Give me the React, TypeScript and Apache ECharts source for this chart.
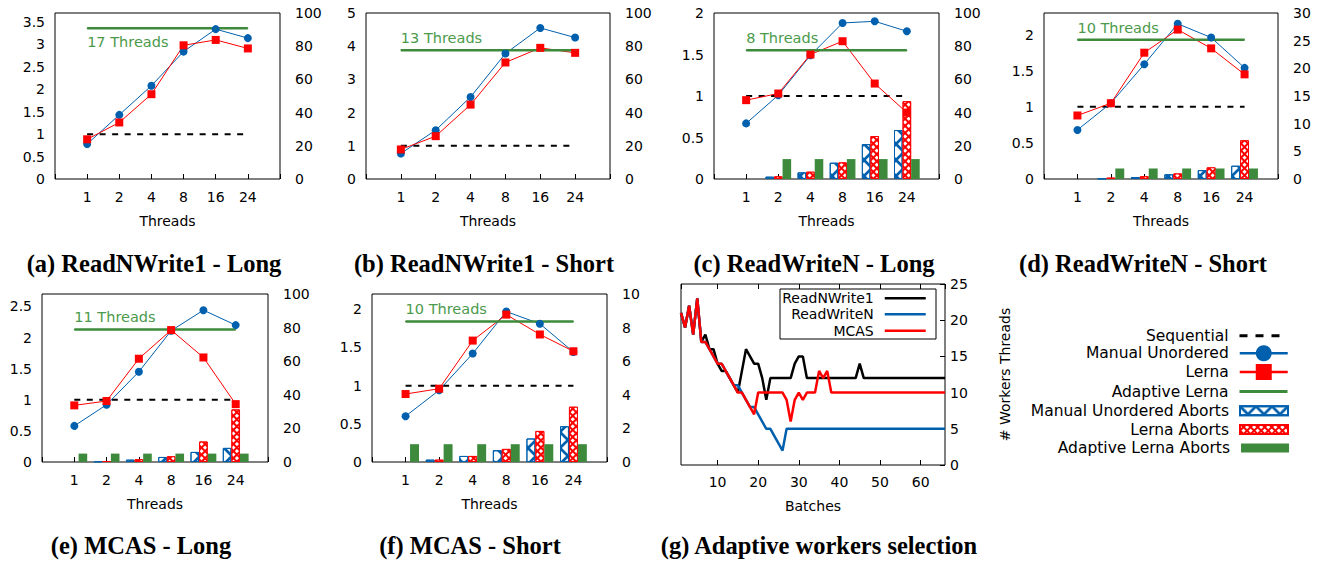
import React, { useEffect, useRef } from 'react';
import * as echarts from 'echarts';

// ---------- Data ----------
const threadCategories = ['', '1', '2', '4', '8', '16', '24', ''];
const sequentialSpeedup = [1, 1, 1, 1, 1, 1];
const adaptiveThreads = [17, 13, 8, 10, 11, 10];

// (a) ReadNWrite1 - Long
const manualA = [0.78, 1.43, 2.08, 2.84, 3.34, 3.14];
const lernaA = [0.885, 1.26, 1.89, 2.98, 3.1, 2.91];
const adaptiveA = [3.36, 3.36, 3.36, 3.36, 3.36, 3.36];
// (b) ReadNWrite1 - Short
const manualB = [0.77, 1.47, 2.47, 3.78, 4.55, 4.26];
const lernaB = [0.89, 1.29, 2.24, 3.51, 3.95, 3.8];
const adaptiveB = [3.88, 3.88, 3.88, 3.88, 3.88, 3.88];
// (c) ReadWriteN - Long
const manualC = [0.67, 1.01, 1.49, 1.88, 1.9, 1.78];
const lernaC = [0.95, 1.03, 1.5, 1.66, 1.15, 0.8];
const adaptiveC = [1.55, 1.55, 1.55, 1.55, 1.55, 1.55];
const manualAbortsC = [null, 1.4, 4, 9.8, 21, 29.5];
const lernaAbortsC = [null, 1.6, 4.4, 10, 25.9, 46.9];
const adaptiveAbortsC = [null, 12, 12, 12, 12, 12];
// (d) ReadWriteN - Short
const manualD = [0.68, 1.05, 1.59, 2.15, 1.96, 1.54];
const lernaD = [0.88, 1.05, 1.75, 2.07, 1.81, 1.45];
const adaptiveD = [1.93, 1.93, 1.93, 1.93, 1.93, 1.93];
const manualAbortsD = [null, 0.1, 0.35, 0.85, 1.6, 2.4];
const lernaAbortsD = [null, 0.25, 0.5, 1.0, 2.1, 7.0];
const adaptiveAbortsD = [null, 1.9, 1.9, 1.9, 1.9, 1.9];
// (e) MCAS - Long
const manualE = [0.58, 0.92, 1.45, 2.11, 2.44, 2.2];
const lernaE = [0.91, 0.98, 1.66, 2.12, 1.68, 0.93];
const adaptiveE = [2.13, 2.13, 2.13, 2.13, 2.13, 2.13];
const manualAbortsE = [null, 0.4, 1.4, 3, 6, 8.4];
const lernaAbortsE = [null, 0.6, 1.6, 3.4, 12.2, 31.3];
const adaptiveAbortsE = [5, 5, 5, 5, 5, 5];
// (f) MCAS - Short
const manualF = [0.6, 0.94, 1.42, 1.97, 1.81, 1.44];
const lernaF = [0.89, 0.96, 1.59, 1.93, 1.67, 1.45];
const adaptiveF = [1.84, 1.84, 1.84, 1.84, 1.84, 1.84];
const manualAbortsF = [null, 0.14, 0.36, 0.7, 1.4, 2.13];
const lernaAbortsF = [null, 0.14, 0.36, 0.78, 1.85, 3.29];
const adaptiveAbortsF = [1.06, 1.06, 1.06, 1.06, 1.06, 1.06];

// (g) Adaptive workers selection, batches 1..66
const readNWrite1Workers = [
  21, 19, 22, 18, 23, 17, 18, 16, 16, 14,
  13, 13, 12, 11, 10, 13, 16, 15, 14, 14,
  12, 9, 12, 12, 12, 12, 12, 12, 14, 15,
  15, 12, 12, 12, 12, 12, 12, 12, 12, 12,
  12, 12, 12, 12, 14, 12, 12, 12, 12, 12,
  12, 12, 12, 12, 12, 12, 12, 12, 12, 12,
  12, 12, 12, 12, 12, 12,
];
const readWriteNWorkers = [
  21, 19, 22, 18, 23, 17, 17, 16, 15, 14,
  14, 13, 12, 11, 11, 10, 9, 8, 8, 7,
  6, 5, 5, 4, 3, 2, 5, 5, 5, 5,
  5, 5, 5, 5, 5, 5, 5, 5, 5, 5,
  5, 5, 5, 5, 5, 5, 5, 5, 5, 5,
  5, 5, 5, 5, 5, 5, 5, 5, 5, 5,
  5, 5, 5, 5, 5, 5,
];
const mcasWorkers = [
  21, 19, 22, 18, 23, 17, 17, 16, 15, 14,
  14, 13, 12, 11, 10, 10, 9, 8, 7, 10,
  10, 10, 10, 10, 10, 10, 9, 6, 9, 10,
  9, 10, 10, 10, 13, 12, 13, 10, 10, 10,
  10, 10, 10, 10, 10, 10, 10, 10, 10, 10,
  10, 10, 10, 10, 10, 10, 10, 10, 10, 10,
  10, 10, 10, 10, 10, 10,
];

// ---------- Styles / layout ----------
const FONT = 'DejaVu Sans';
const BLUE = '#0060ad';
const RED = '#ff0000';
const GREEN = '#3d8a3d';
const GREEN_TEXT = '#4b9a4b';
const X_HATCH = 'path://M0,0L1.2,0L10,8.8L10,10L8.8,10L0,1.2Z M8.8,0L10,0L10,1.2L1.2,10L0,10L0,8.8Z';

const panels = [
  { caption: '(a) ReadNWrite1 - Long', manual: manualA, lerna: lernaA, adaptive: adaptiveA, aborts: null,
    leftMax: 3.7, leftStep: 0.5, rightMax: 100, rightStep: 20, labelPos: 'bottom',
    grid: { left: 55, top: 13, width: 225, height: 166 }, cx: 154, cy: 263 },
  { caption: '(b) ReadNWrite1 - Short', manual: manualB, lerna: lernaB, adaptive: adaptiveB, aborts: null,
    leftMax: 5, leftStep: 1, rightMax: 100, rightStep: 20, labelPos: 'top',
    grid: { left: 366, top: 13, width: 244, height: 166 }, cx: 484, cy: 263 },
  { caption: '(c) ReadWriteN - Long', manual: manualC, lerna: lernaC, adaptive: adaptiveC,
    aborts: [manualAbortsC, lernaAbortsC, adaptiveAbortsC],
    leftMax: 2, leftStep: 0.5, rightMax: 100, rightStep: 20, labelPos: 'top',
    grid: { left: 714, top: 13, width: 225, height: 166 }, cx: 814, cy: 263 },
  { caption: '(d) ReadWriteN - Short', manual: manualD, lerna: lernaD, adaptive: adaptiveD,
    aborts: [manualAbortsD, lernaAbortsD, adaptiveAbortsD],
    leftMax: 2.3, leftStep: 0.5, rightMax: 30, rightStep: 5, labelPos: 'top',
    grid: { left: 1044, top: 13, width: 234, height: 166 }, cx: 1143, cy: 263 },
  { caption: '(e) MCAS - Long', manual: manualE, lerna: lernaE, adaptive: adaptiveE,
    aborts: [manualAbortsE, lernaAbortsE, adaptiveAbortsE],
    leftMax: 2.7, leftStep: 0.5, rightMax: 100, rightStep: 20, labelPos: 'top',
    grid: { left: 42, top: 294, width: 226, height: 168 }, cx: 141, cy: 545 },
  { caption: '(f) MCAS - Short', manual: manualF, lerna: lernaF, adaptive: adaptiveF,
    aborts: [manualAbortsF, lernaAbortsF, adaptiveAbortsF],
    leftMax: 2.2, leftStep: 0.5, rightMax: 10, rightStep: 2, labelPos: 'top',
    grid: { left: 372, top: 294, width: 235, height: 168 }, cx: 470, cy: 545 },
];

const pad = (v: any[]) => [null, ...v, null];
const isMultiple = (a: number, b: number) => Math.abs(a / b - Math.round(a / b)) < 1e-9;

const labelFont = { fontFamily: FONT, fontSize: 14, color: '#000' };

function buildOption() {
  const grid: any[] = [];
  const xAxis: any[] = [];
  const yAxis: any[] = [];
  const series: any[] = [];
  const lineSeries: any[] = [];
  const barSeries: any[] = [];

  panels.forEach((p, i) => {
    grid.push({ ...p.grid, show: true, borderColor: '#000', borderWidth: 1 });
    xAxis.push({
      type: 'category', gridIndex: i, data: threadCategories, boundaryGap: false,
      axisLine: { show: false },
      axisTick: { show: true, inside: true, length: 5, interval: 0, lineStyle: { color: '#000' } },
      axisLabel: { ...labelFont, margin: 11, interval: 0 },
      splitLine: { show: false },
      name: 'Threads', nameLocation: 'middle', nameGap: 35, nameTextStyle: labelFont,
    });
    yAxis.push({
      type: 'value', gridIndex: i, position: 'left', min: 0, max: p.leftMax, interval: p.leftStep,
      axisLine: { show: false }, axisTick: { show: false }, splitLine: { show: false },
      axisLabel: { ...labelFont, margin: 10, showMaxLabel: isMultiple(p.leftMax, p.leftStep) },
    });
    yAxis.push({
      type: 'value', gridIndex: i, position: 'right', min: 0, max: p.rightMax, interval: p.rightStep,
      axisLine: { show: false }, axisTick: { show: false }, splitLine: { show: false },
      axisLabel: { ...labelFont, margin: 15 },
    });

    const yl = 2 * i;
    const yr = 2 * i + 1;
    lineSeries.push({
      name: 'Sequential', type: 'line', xAxisIndex: i, yAxisIndex: yl, data: pad(sequentialSpeedup),
      symbol: 'none', lineStyle: { color: '#000', width: 2, type: [6, 6.5] }, itemStyle: { color: '#000' },
    });
    lineSeries.push({
      name: 'Manual Unordered', type: 'line', xAxisIndex: i, yAxisIndex: yl, data: pad(p.manual),
      symbol: 'circle', symbolSize: 8, lineStyle: { color: BLUE, width: 1 }, itemStyle: { color: BLUE },
    });
    lineSeries.push({
      name: 'Lerna', type: 'line', xAxisIndex: i, yAxisIndex: yl, data: pad(p.lerna),
      symbol: 'rect', symbolSize: 8, lineStyle: { color: RED, width: 1 }, itemStyle: { color: RED },
    });
    const adaptiveData: any[] = pad(p.adaptive);
    adaptiveData[1] = {
      value: p.adaptive[0],
      label: {
        show: true, formatter: `${adaptiveThreads[i]} Threads`, position: p.labelPos, align: 'left',
        distance: p.labelPos === 'bottom' ? 6 : 4, color: GREEN_TEXT, fontFamily: FONT, fontSize: 14.5,
      },
    };
    lineSeries.push({
      name: 'Adaptive Lerna', type: 'line', xAxisIndex: i, yAxisIndex: yl, data: adaptiveData,
      symbol: 'circle', symbolSize: 1, lineStyle: { color: GREEN, width: 2.5 }, itemStyle: { color: GREEN },
    });

    if (p.aborts) {
      const common = { type: 'bar', xAxisIndex: i, yAxisIndex: yr, barGap: '0%', barCategoryGap: '20%' };
      barSeries.push({
        ...common, name: 'Manual Unordered Aborts', data: pad(p.aborts[0]),
        itemStyle: {
          color: '#ffffff', borderColor: BLUE, borderWidth: 1,
          decal: { symbol: X_HATCH, symbolSize: 1, color: BLUE, dashArrayX: [16, 0], dashArrayY: [16, 0] },
        },
      });
      barSeries.push({
        ...common, name: 'Lerna Aborts', data: pad(p.aborts[1]),
        itemStyle: {
          color: RED, borderColor: RED, borderWidth: 1,
          decal: { symbol: 'rect', symbolSize: 1, color: '#ffffff', dashArrayX: [3, 2], dashArrayY: [3, 2], rotation: Math.PI / 4 },
        },
      });
      barSeries.push({
        ...common, name: 'Adaptive Lerna Aborts', data: pad(p.aborts[2]),
        itemStyle: { color: GREEN },
      });
    }
  });

  // (g)
  const gi = panels.length;
  grid.push({ left: 681, top: 284, width: 264, height: 181, show: true, borderColor: '#000', borderWidth: 1 });
  xAxis.push({
    type: 'value', gridIndex: gi, min: 1, max: 66,
    axisLine: { show: false },
    axisTick: { show: true, inside: true, length: 5, lineStyle: { color: '#000' } },
    axisLabel: { ...labelFont, margin: 10, showMinLabel: false, showMaxLabel: false },
    splitLine: { show: false },
    name: 'Batches', nameLocation: 'middle', nameGap: 34, nameTextStyle: labelFont,
  });
  xAxis.push({
    type: 'value', gridIndex: gi, position: 'top', min: 1, max: 66,
    axisLine: { show: false },
    axisTick: { show: true, inside: true, length: 5, lineStyle: { color: '#000' } },
    axisLabel: { show: false }, splitLine: { show: false },
  });
  yAxis.push({
    type: 'value', gridIndex: gi, position: 'right', min: 0, max: 25, interval: 5,
    axisLine: { show: false },
    axisTick: { show: true, inside: true, length: 5, lineStyle: { color: '#000' } },
    axisLabel: { ...labelFont, margin: 5 }, splitLine: { show: false },
    name: '# Workers Threads', nameLocation: 'middle', nameGap: 53, nameTextStyle: labelFont,
  });
  const gy = yAxis.length - 1;
  const gSeries = [
    { name: 'ReadNWrite1', values: readNWrite1Workers, color: '#000000' },
    { name: 'ReadWriteN', values: readWriteNWorkers, color: BLUE },
    { name: 'MCAS', values: mcasWorkers, color: RED },
  ];
  gSeries.forEach((s) => {
    lineSeries.push({
      name: s.name, type: 'line', xAxisIndex: gi, yAxisIndex: gy,
      data: s.values.map((v, k) => [k + 1, v]),
      symbol: 'none', lineStyle: { color: s.color, width: 2.5 }, itemStyle: { color: s.color },
    });
  });

  series.push(...lineSeries, ...barSeries);

  // Legends (one component per row so text is right-aligned and icons line up)
  const mainRows = [
    { name: 'Sequential', cy: 335.7, h: 18, hide: true, lineStyle: { width: 3, type: [8, 8] } },
    { name: 'Manual Unordered', cy: 354.3, h: 20, lineStyle: { width: 2.5 } },
    { name: 'Lerna', cy: 373, h: 20, lineStyle: { width: 2.5 } },
    { name: 'Adaptive Lerna', cy: 391.6, h: 18, hide: true, lineStyle: { width: 3 } },
    { name: 'Manual Unordered Aborts', cy: 410.3, h: 9, icon: 'rect' },
    { name: 'Lerna Aborts', cy: 429, h: 9, icon: 'rect' },
    { name: 'Adaptive Lerna Aborts', cy: 447.6, h: 9, icon: 'rect' },
  ];
  const legend: any[] = mainRows.map((r) => ({
    data: [r.icon ? { name: r.name, icon: r.icon } : r.name],
    orient: 'vertical', align: 'right', right: 39, top: r.cy - Math.max(r.h, 17) / 2 + 1,
    itemWidth: 48, itemHeight: r.h, padding: 0, selectedMode: false,
    textStyle: { fontFamily: FONT, fontSize: 15.5, color: '#000', padding: [0, 6, 0, 0] },
    ...(r.hide ? { itemStyle: { opacity: 0 } } : {}),
    ...(r.lineStyle ? { lineStyle: r.lineStyle } : {}),
  }));
  const gRows = [
    { name: 'ReadNWrite1', cy: 299.3 },
    { name: 'ReadWriteN', cy: 315.3 },
    { name: 'MCAS', cy: 331.7 },
  ];
  gRows.forEach((r) => {
    legend.push({
      data: [r.name], orient: 'vertical', align: 'right', right: 401, top: r.cy - 8,
      itemWidth: 41, itemHeight: 14, padding: 0, selectedMode: false,
      textStyle: { fontFamily: FONT, fontSize: 14, color: '#000', padding: [0, 6, 0, 0] },
      itemStyle: { opacity: 0 }, lineStyle: { width: 2.5 },
    });
  });

  const graphic: any[] = [
    {
      type: 'rect', z: 1, shape: { x: 780, y: 289, width: 156, height: 50 },
      style: { fill: '#ffffff', stroke: '#000000', lineWidth: 1 },
    },
  ];
  const captions = [
    ...panels.map((p) => ({ text: p.caption, x: p.cx, y: p.cy })),
    { text: '(g) Adaptive workers selection', x: 819, y: 545 },
  ];
  captions.forEach((c) => {
    graphic.push({
      type: 'text', x: c.x, y: c.y,
      style: {
        text: c.text, fontFamily: 'Liberation Serif', fontWeight: 'bold', fontSize: 24.5, fill: '#000',
        align: 'center', verticalAlign: 'middle', textAlign: 'center', textVerticalAlign: 'middle',
      },
    });
  });

  return {
    animation: false,
    backgroundColor: '#ffffff',
    textStyle: { fontFamily: FONT },
    grid, xAxis, yAxis, series, legend, graphic,
  };
}

export default function App() {
  const ref = useRef<HTMLDivElement>(null);
  useEffect(() => {
    if (!ref.current) return;
    const chart = echarts.init(ref.current, undefined, { renderer: 'svg' });
    chart.setOption(buildOption() as any);
    return () => chart.dispose();
  }, []);
  return <div ref={ref} style={{ position: 'fixed', left: 0, top: 0, width: 1328, height: 563 }} />;
}
